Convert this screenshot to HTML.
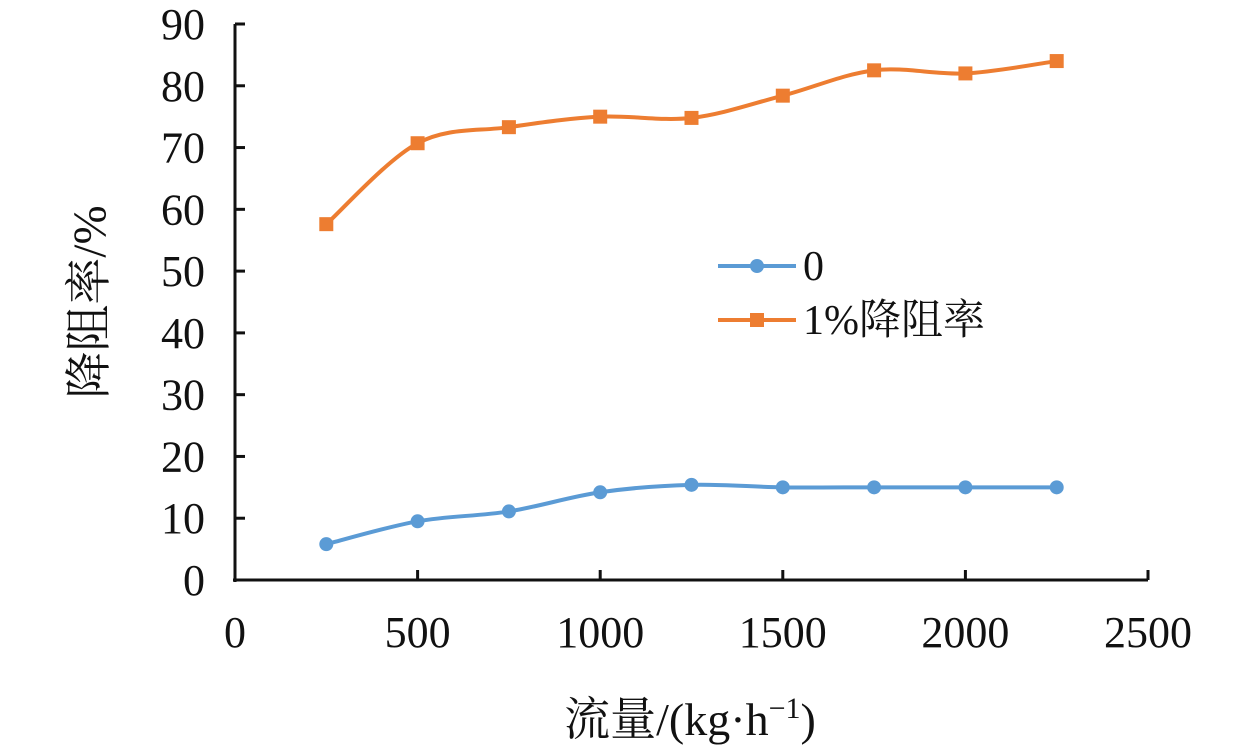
<!DOCTYPE html>
<html><head><meta charset="utf-8"><style>
body{margin:0;background:#fff;}
svg text{font-family:"Liberation Serif","Noto Serif CJK SC",serif;fill:#111;}
</style></head><body>
<svg width="1259" height="748" viewBox="0 0 1259 748" xmlns="http://www.w3.org/2000/svg">
<g id="axes"></g>
<g id="series"></g>
<text transform="translate(105,302) rotate(-90)" text-anchor="middle" font-size="47">降阻率/%</text>
<text x="690" y="735" text-anchor="middle" font-size="46">流量/(kg·h<tspan font-size="30" dy="-17">−1</tspan><tspan dy="17">)</tspan></text>
<g>
<g>
<line x1="718" y1="266" x2="796" y2="266" stroke="#5b9bd5" stroke-width="4"/>
<circle cx="757" cy="266" r="7" fill="#5b9bd5"/>
<text x="803" y="280" font-size="42">0</text></g>
<g>
<line x1="718" y1="320" x2="796" y2="320" stroke="#ed7d31" stroke-width="4"/>
<rect x="750" y="313" width="14" height="14" fill="#ed7d31"/>
<text x="803" y="334" font-size="42">1%降阻率</text></g>
</g>
</svg>
<script>
const xValues=[250,500,750,1000,1250,1500,1750,2000,2250];
const seriesBlue=[5.8,9.5,11.1,14.2,15.4,15.0,15.0,15.0,15.0];
const seriesOrange=[57.6,70.7,73.3,75.0,74.8,78.4,82.5,82.0,84.0];
const xTicks=[0,500,1000,1500,2000,2500];
const yTicks=[0,10,20,30,40,50,60,70,80,90];
const NS="http://www.w3.org/2000/svg";
const X=v=>235+v*(913/2500);
const Y=v=>580-v*(556/90);
function mk(tag,attrs,parent){const e=document.createElementNS(NS,tag);for(const k in attrs)e.setAttribute(k,attrs[k]);parent.appendChild(e);return e;}
const ax=document.getElementById('axes');
let l=mk('line',{x1:235,y1:Y(90),x2:235,y2:582,stroke:'#111','stroke-width':3},ax);


l=mk('line',{x1:233,y1:580,x2:X(2500),y2:580,stroke:'#111','stroke-width':3},ax);


yTicks.forEach(t=>{
 const tk=mk('line',{x1:235,y1:Y(t),x2:245,y2:Y(t),stroke:'#111','stroke-width':3},ax);
 
 
 const tx=mk('text',{x:205,y:Y(t)+15,'text-anchor':'end','font-size':44},ax);tx.textContent=t;
 
 
});
xTicks.forEach(t=>{
 if(t>0){const tk=mk('line',{x1:X(t),y1:580,x2:X(t),y2:570,stroke:'#111','stroke-width':3},ax);
 
 }
 const tx=mk('text',{x:X(t),y:647,'text-anchor':'middle','font-size':44},ax);tx.textContent=t;
 
 
});
function smooth(pts){let d=`M${pts[0][0]},${pts[0][1]}`;for(let i=0;i<pts.length-1;i++){const p0=pts[i-1]||pts[i],p1=pts[i],p2=pts[i+1],p3=pts[i+2]||p2;const t=6;d+=` C${p1[0]+(p2[0]-p0[0])/t},${p1[1]+(p2[1]-p0[1])/t} ${p2[0]-(p3[0]-p1[0])/t},${p2[1]-(p3[1]-p1[1])/t} ${p2[0]},${p2[1]}`;}return d;}
const sg=document.getElementById('series');
function draw(vals,color,marker,name){
 const pts=xValues.map((x,i)=>[X(x),Y(vals[i])]);
 const p=mk('path',{d:smooth(pts),fill:'none',stroke:color,'stroke-width':4},sg);
 
 
 pts.forEach(([x,y])=>{
  const m=marker==='c'?mk('circle',{cx:x,cy:y,r:7,fill:color},sg):mk('rect',{x:x-7,y:y-7,width:14,height:14,fill:color},sg);
  
  
 });
}
draw(seriesBlue,'#5b9bd5','c','series-0');
draw(seriesOrange,'#ed7d31','s','series-1pct');
</script>
</body></html>
